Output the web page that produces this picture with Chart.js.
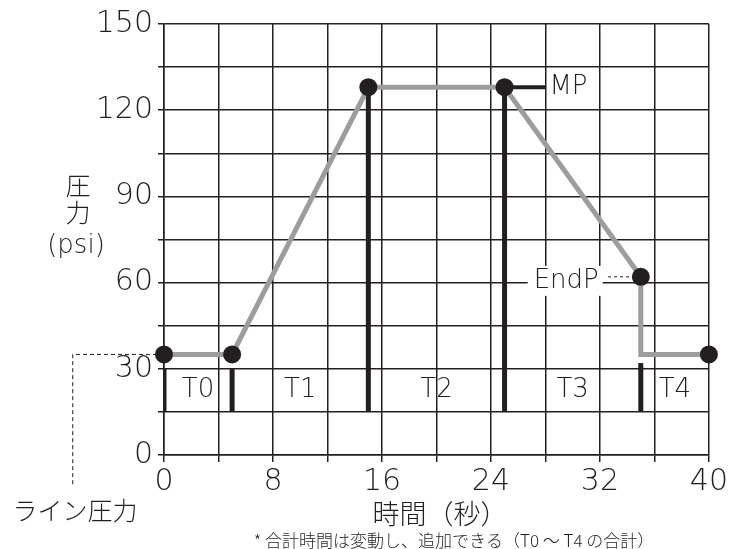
<!DOCTYPE html>
<html>
<head>
<meta charset="utf-8">
<script src="https://cdn.jsdelivr.net/npm/chart.js@4"></script>
<style>
  html, body { margin: 0; padding: 0; background: #fff; }
  #wrap { width: 730px; height: 549px; }
</style>
</head>
<body>
<div id="wrap"><canvas id="chart"></canvas></div>
<script>
// pressure profile (seconds, psi)
const timeSec = [0, 5, 15, 25, 35, 35, 40];
const pressure = [35, 35, 128, 128, 62, 35, 35];

// phase boundary markers
const markerX = [0, 5, 15, 25, 35];
const markerTop = [30, 30, 128, 128, 32];
const markerBottom = 15;

const phaseLabels = ['T0', 'T1', 'T2', 'T3', 'T4'];
const phaseX = [2.5, 10, 20, 30, 37.5];
const phaseY = 22.5;

const xTicks = [0, 8, 16, 24, 32, 40];
const yTicks = [0, 30, 60, 90, 120, 150];

const FONT = '"DejaVu Sans", "Noto Sans CJK JP", sans-serif';
const JP = '"Noto Sans CJK JP", sans-serif';
const INK = '#231f20';

const profile = timeSec.map((t, i) => ({x: t, y: pressure[i]}));

const markerSets = markerX.map((x, i) => ({
    type: 'line',
    data: [{x: x, y: markerBottom}, {x: x, y: markerTop[i]}],
    borderColor: INK,
    borderWidth: 5,
    pointRadius: 0,
    order: 2
}));

const textPlugin = {
    id: 'texts',
    afterDatasetsDraw(chart) {
        const ctx = chart.ctx;
        const xs = chart.scales.x, ys = chart.scales.y;
        ctx.save();
        ctx.fillStyle = INK;
        ctx.textBaseline = 'middle';
        ctx.textAlign = 'center';

        // phase labels
        ctx.font = '200 26px ' + FONT;
        phaseLabels.forEach((lab, i) => {
            ctx.fillText(lab, xs.getPixelForValue(phaseX[i]), ys.getPixelForValue(phaseY));
        });

        // MP
        ctx.textAlign = 'left';
        ctx.fillText('MP', xs.getPixelForValue(28) + 4, ys.getPixelForValue(128));

        // EndP with white box
        const ex = xs.getPixelForValue(32.5) - 8;
        const ey = ys.getPixelForValue(62) + 4;
        ctx.textAlign = 'right';
        const w = ctx.measureText('EndP').width;
        ctx.fillStyle = '#fff';
        ctx.fillRect(ex - w - 6, ey - 15, w + 10, 30);
        ctx.fillStyle = INK;
        ctx.fillText('EndP', ex, ey);

        // axis titles
        ctx.textAlign = 'center';
        ctx.font = '300 25px ' + JP;
        ctx.fillText('圧', 78, 185);
        ctx.fillText('力', 78, 212);
        ctx.font = '200 26px ' + FONT;
        ctx.fillText('(psi)', 76, 246);
        ctx.font = '300 27px ' + JP;
        ctx.fillText('時間（秒）', 440, 514);
        ctx.font = '300 25px ' + JP;
        ctx.fillText('ライン圧力', 75, 510);
        ctx.font = '300 17px ' + JP;
        ctx.fillText('* 合計時間は変動し、追加できる（T0 ～ T4 の合計）', 454, 541);
        ctx.restore();
    }
};

new Chart(document.getElementById('chart').getContext('2d'), {
    type: 'line',
    data: {
        datasets: [{
            data: profile,
            borderColor: '#9d9d9d',
            borderWidth: 5,
            pointBackgroundColor: INK,
            pointBorderColor: INK,
            pointRadius: ctx => (ctx.dataIndex > 0 && timeSec[ctx.dataIndex] === timeSec[ctx.dataIndex - 1]) ? 0 : 9,
            pointBorderWidth: 0,
            tension: 0,
            clip: false,
            order: 0
        }, {
            // MP leader
            data: [{x: timeSec[3], y: pressure[3]}, {x: 28, y: pressure[3]}],
            borderColor: INK,
            borderWidth: 4,
            pointRadius: 0,
            order: 1
        }, {
            // EndP leader
            data: [{x: 32.6, y: pressure[4]}, {x: timeSec[4], y: pressure[4]}],
            borderColor: INK,
            borderWidth: 1,
            borderDash: [3, 3],
            pointRadius: 0,
            order: 1
        }, {
            // line pressure leader
            data: [{x: timeSec[0], y: pressure[0]}, {x: -6.7, y: pressure[0]}, {x: -6.7, y: -11}],
            borderColor: INK,
            borderWidth: 1,
            borderDash: [4, 3],
            pointRadius: 0,
            clip: false,
            order: 1
        }, ...markerSets]
    },
    options: {
        responsive: true,
        maintainAspectRatio: false,
        animation: false,
        layout: {padding: {top: 24, right: 20, left: 0, bottom: 0}},
        plugins: {legend: {display: false}, tooltip: {enabled: false}},
        scales: {
            x: {
                type: 'linear',
                min: 0, max: 40,
                afterFit: s => { s.height = 94; },
                grid: {color: INK, lineWidth: 1.5, tickLength: 7},
                border: {color: INK, width: 1.5},
                ticks: {
                    stepSize: 4,
                    color: INK,
                    padding: 2,
                    maxRotation: 0,
                    autoSkip: false,
                    font: {family: FONT, size: 30, weight: 200},
                    callback: v => xTicks.includes(v) ? String(v) : ''
                }
            },
            y: {
                min: 0, max: 150,
                afterFit: s => { s.width = 164; },
                grid: {color: INK, lineWidth: 1.5, tickLength: 6},
                border: {color: INK, width: 1.5},
                ticks: {
                    stepSize: 15,
                    color: INK,
                    padding: 5,
                    font: {family: FONT, size: 30, weight: 200},
                    callback: v => yTicks.includes(v) ? String(v) : ''
                }
            }
        }
    },
    plugins: [textPlugin]
});
</script>
</body>
</html>
